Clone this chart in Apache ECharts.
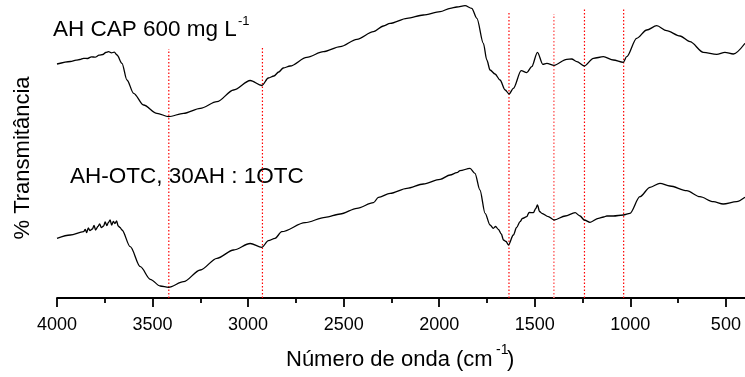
<!DOCTYPE html>
<html>
<head>
<meta charset="utf-8">
<script src="https://cdn.jsdelivr.net/npm/echarts@6/dist/echarts.min.js"></script>
<style>
  html, body { margin: 0; padding: 0; background: #fff; }
  #chart { width: 745px; height: 377px; }
</style>
</head>
<body>
<div id="chart"></div>
<script>
// espectro AH CAP 600 mg/L (curva de cima)
var topWave = [4000, 3930, 3900, 3880, 3861, 3840, 3820, 3800, 3780, 3760, 3745, 3730, 3715, 3700, 3686, 3660, 3634, 3599, 3547, 3477, 3416, 3338, 3250, 3163, 3076, 2989, 2928, 2894, 2865, 2840, 2816, 2780, 2693, 2606, 2518, 2431, 2344, 2292, 2257, 2169, 2083, 1995, 1943, 1908, 1865, 1830, 1803, 1769, 1751, 1734, 1708, 1682, 1655, 1634, 1612, 1571, 1542, 1516, 1486, 1458, 1437, 1399, 1333, 1307, 1280, 1241, 1193, 1141, 1089, 1037, 1019, 967, 914, 862, 810, 740, 688, 618, 548, 505, 461, 400];
var topT = [234, 236.5, 237.8, 238.5, 239.7, 239.5, 241.2, 240.8, 242.8, 243.5, 245.5, 246.3, 245.2, 245.8, 243, 234.7, 218, 204.7, 193, 184.7, 181.3, 184.7, 189.7, 196.3, 208, 217.5, 212.5, 220, 222, 226, 230, 232, 240.7, 246.3, 251.3, 258.7, 266.3, 272, 274.7, 279.7, 283, 286.3, 289.7, 291, 292.3, 289.7, 279.7, 254.7, 238, 228, 224, 218, 208, 204, 209.7, 227.3, 225.3, 231.3, 245.7, 233.7, 234.7, 232.7, 238.7, 239, 236.3, 232, 239.7, 241.3, 238, 235.7, 241.3, 259.7, 268, 272.3, 267.3, 262, 256.3, 245.7, 243.7, 245.7, 244, 254.7];

// espectro AH-OTC, 30AH : 1OTC (curva de baixo)
var bottomWave = [4000, 3930, 3861, 3852, 3845, 3836, 3828, 3815, 3806, 3798, 3786, 3777, 3768, 3756, 3748, 3739, 3731, 3722, 3714, 3705, 3697, 3688, 3680, 3670, 3660, 3617, 3564, 3512, 3460, 3416, 3338, 3250, 3163, 3076, 2989, 2928, 2894, 2859, 2824, 2702, 2597, 2518, 2431, 2344, 2318, 2257, 2169, 2083, 1995, 1943, 1908, 1891, 1839, 1813, 1787, 1760, 1734, 1717, 1705, 1690, 1675, 1664, 1650, 1638, 1612, 1595, 1577, 1565, 1542, 1530, 1507, 1495, 1486, 1475, 1463, 1429, 1399, 1341, 1289, 1263, 1241, 1211, 1167, 1140, 1123, 1089, 1037, 1002, 950, 897, 845, 793, 705, 636, 566, 514, 444, 400];
var bottomT = [59.7, 63, 66.3, 68.5, 65.5, 70, 67.5, 69, 72.5, 68, 71.5, 74, 70.5, 72, 76, 72.5, 75.5, 78, 73, 76.5, 74.5, 77, 72, 70.5, 68, 51.3, 31.3, 18.7, 12, 10.7, 16.3, 28, 39.7, 48, 54.5, 50.7, 57.3, 59.7, 66.3, 75.3, 80.7, 84, 89.7, 95.3, 100.7, 104.7, 109.7, 114, 118.7, 123, 125.3, 127.3, 129.7, 124.7, 108, 84.7, 73, 69.7, 71.5, 68.5, 64, 58, 56.5, 53, 63, 70.5, 76.3, 79.5, 81.3, 85.5, 85.3, 89.5, 93, 86.5, 84.7, 81.3, 78, 82, 85.3, 82, 78, 75.7, 79.7, 81, 82, 82, 83, 84.7, 101.3, 110.7, 114.7, 112, 107.3, 101.3, 96.3, 94, 96.3, 100.7];

// linhas verticais pontilhadas (numero de onda e altura do topo)
var vlineWave = [3415, 2925, 1635, 1400, 1240, 1035];
var vlineTop = [249, 251, 285, 284, 289, 289];

var majorTicks = [4000, 3500, 3000, 2500, 2000, 1500, 1000, 500];
var minorTicks = [3750, 3250, 2750, 2250, 1750, 1250, 750];

function pairs(xs, ys) {
    var out = [];
    for (var i = 0; i < xs.length; i++) {
        out.push([xs[i], ys[i]]);
    }
    return out;
}

var series = [];
for (var k = 0; k < vlineWave.length; k++) {
    series.push({
        type: 'line',
        silent: true,
        symbol: 'none',
        data: [[vlineWave[k], 0], [vlineWave[k], vlineTop[k]]],
        lineStyle: {
            color: k == 3 ? '#ff7070' : '#ff0000',
            width: k == 3 ? 1.6 : 1.2,
            type: [1.5, 2]
        },
        z: 1
    });
}
series.push({
    type: 'line',
    symbol: 'none',
    smooth: 0.3,
    smoothMonotone: 'x',
    data: pairs(topWave, topT),
    lineStyle: { color: '#000', width: 1.3 },
    z: 3
});
series.push({
    type: 'line',
    symbol: 'none',
    smooth: 0.3,
    smoothMonotone: 'x',
    data: pairs(bottomWave, bottomT),
    lineStyle: { color: '#000', width: 1.3 },
    z: 3
});

var fontFam = 'Liberation Sans, Arial, sans-serif';

var option = {
    animation: false,
    backgroundColor: '#fff',
    grid: { left: 57, right: 0, top: 0, bottom: 79 },
    xAxis: [{
        type: 'value',
        min: 400,
        max: 4000,
        inverse: true,
        splitLine: { show: false },
        axisLine: { lineStyle: { color: '#000', width: 1.8 } },
        axisTick: {
            customValues: majorTicks,
            length: 9,
            lineStyle: { color: '#000', width: 1.8 }
        },
        axisLabel: {
            customValues: majorTicks,
            margin: 18,
            color: '#000',
            fontSize: 18,
            fontFamily: fontFam,
            formatter: function (v) { return String(v); }
        }
    }, {
        type: 'value',
        min: 400,
        max: 4000,
        inverse: true,
        position: 'bottom',
        splitLine: { show: false },
        axisLine: { show: false },
        axisLabel: { show: false },
        axisTick: {
            customValues: minorTicks,
            length: 5,
            lineStyle: { color: '#000', width: 1.8 }
        }
    }],
    yAxis: {
        type: 'value',
        min: 0,
        max: 298,
        show: false
    },
    graphic: [
        { type: 'text', left: 53, top: 18, style: { text: 'AH CAP 600 mg L', fontSize: 22.5, fontFamily: fontFam, fill: '#000' } },
        { type: 'text', left: 238, top: 15, style: { text: '-1', fontSize: 13, fontFamily: fontFam, fill: '#000' } },
        { type: 'text', left: 70, top: 165, style: { text: 'AH-OTC, 30AH : 1OTC', fontSize: 22.5, fontFamily: fontFam, fill: '#000' } },
        { type: 'text', left: 286, top: 349, style: { text: 'Número de onda (cm', fontSize: 22, fontFamily: fontFam, fill: '#000' } },
        { type: 'text', left: 496, top: 343, style: { text: '-1', fontSize: 14, fontFamily: fontFam, fill: '#000' } },
        { type: 'text', left: 507, top: 349, style: { text: ')', fontSize: 22, fontFamily: fontFam, fill: '#000' } },
        {
            type: 'text',
            x: 23,
            y: 158,
            rotation: Math.PI / 2,
            style: {
                text: '% Transmitância',
                fontSize: 22,
                fontFamily: fontFam,
                fill: '#000',
                align: 'center',
                verticalAlign: 'middle'
            }
        }
    ],
    series: series
};

var myChart = echarts.init(document.getElementById('chart'));
myChart.setOption(option, true);
</script>
</body>
</html>
